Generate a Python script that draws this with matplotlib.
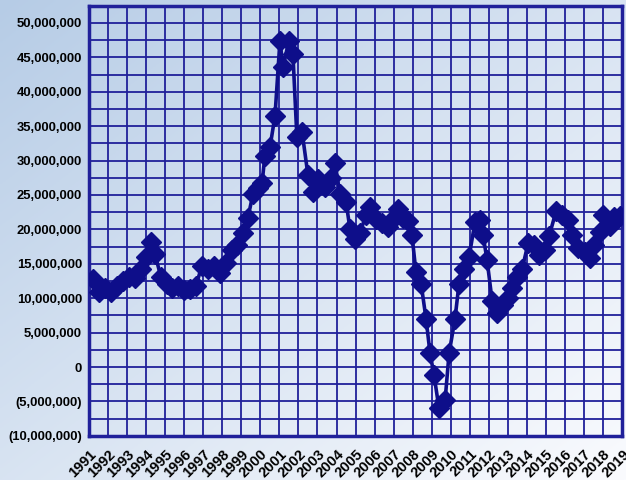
import numpy as np
import matplotlib.pyplot as plt
from matplotlib.ticker import FuncFormatter, MultipleLocator

# fecha (año decimal) y valor en millones
years = [1991.21, 1991.53, 1991.84, 1992.16, 1992.47, 1992.79, 1993.10, 1993.42,
         1993.73, 1993.99, 1994.26, 1994.47, 1994.78, 1995.10, 1995.36, 1995.67,
         1995.99, 1996.30, 1996.62, 1996.93, 1997.25, 1997.57, 1997.88, 1998.20,
         1998.51, 1998.77, 1999.09, 1999.35, 1999.61, 1999.88, 2000.09, 2000.24,
         2000.51, 2000.77, 2001.03, 2001.19, 2001.50, 2001.71, 2001.92, 2002.19,
         2002.50, 2002.76, 2003.03, 2003.39, 2003.71, 2003.92, 2004.18, 2004.50,
         2004.71, 2004.97, 2005.23, 2005.55, 2005.76, 2006.07, 2006.39, 2006.70,
         2006.97, 2007.23, 2007.49, 2007.75, 2007.96, 2008.17, 2008.44, 2008.70,
         2008.91, 2009.12, 2009.38, 2009.70, 2009.91, 2010.22, 2010.43, 2010.70,
         2010.96, 2011.27, 2011.54, 2011.69, 2011.90, 2012.17, 2012.43, 2012.74,
         2013.01, 2013.22, 2013.48, 2013.74, 2014.06, 2014.37, 2014.63, 2014.95,
         2015.16, 2015.53, 2015.84, 2016.16, 2016.37, 2016.68, 2017.05, 2017.31,
         2017.52, 2017.84, 2018.00, 2018.36, 2018.57, 2018.89]
values = [12.8, 10.9, 11.5, 10.9, 11.8, 12.5, 13.1, 12.9,
          14.2, 16.0, 18.2, 16.4, 13.1, 12.1, 11.5, 11.8,
          11.2, 11.3, 11.8, 14.7, 14.2, 14.7, 13.7, 15.1,
          17.0, 17.7, 19.5, 21.7, 25.1, 26.0, 26.7, 30.7,
          32.0, 36.5, 47.4, 43.6, 47.4, 45.5, 33.4, 34.2,
          27.9, 25.4, 27.3, 26.2, 27.5, 29.7, 25.1, 24.0,
          20.0, 18.6, 19.5, 22.1, 23.3, 21.5, 20.9, 20.3,
          21.5, 23.0, 21.7, 21.2, 19.2, 13.8, 12.1, 7.0,
          2.0, -1.2, -6.0, -4.8, 2.0, 7.0, 12.1, 14.2,
          16.0, 21.1, 21.4, 19.2, 15.6, 9.6, 7.8, 9.0,
          10.0, 11.5, 13.1, 14.2, 18.0, 17.7, 16.3, 17.0,
          19.0, 22.7, 22.1, 21.4, 19.2, 17.3, 16.7, 15.8,
          17.7, 19.6, 22.1, 20.5, 21.8, 21.9]
year_labels = [str(y) for y in range(1991, 2020)]

fig = plt.figure(figsize=(6.26, 4.80), dpi=100)

# fondo degradado (azul arriba a la izquierda, blanco abajo a la derecha)
bg = fig.add_axes([0, 0, 1, 1], zorder=-1)
gx, gy = np.meshgrid(np.linspace(0, 1, 200), np.linspace(0, 1, 200))
t = np.clip((gx + gy) / 2, 0, 1)
c0 = np.array([182, 204, 230]) / 255
c1 = np.array([250, 251, 254]) / 255
img = c0[None, None, :] * (1 - t[..., None]) + c1[None, None, :] * t[..., None]
bg.imshow(img, aspect='auto', extent=[0, 1, 0, 1], origin='upper')
bg.axis('off')

ax = fig.add_axes([0.142, 0.092, 0.852, 0.896])
ax.set_facecolor('none')
navy = '#0e0e8a'
grid_c = '#20209a'

ax.plot(years, [v * 1e6 for v in values], color=navy, lw=2.6,
        marker='D', markersize=10.5, markerfacecolor=navy,
        markeredgecolor=navy, zorder=3)

ax.set_xlim(1991, 2019)
ax.set_ylim(-10e6, 52.5e6)
ax.set_xticks(range(1991, 2020))
ax.set_xticklabels(year_labels, rotation=45, ha='right',
                   rotation_mode='anchor', fontweight='bold', fontsize=10.5,
                   family='Liberation Sans')
ax.yaxis.set_major_locator(MultipleLocator(5e6))
ax.yaxis.set_minor_locator(MultipleLocator(2.5e6))


def fmt(v, pos):
    if v < 0:
        return '({:,.0f})'.format(-v)
    return '{:,.0f}'.format(v)


ax.yaxis.set_major_formatter(FuncFormatter(fmt))
for lab in ax.get_yticklabels():
    lab.set_fontweight('bold')
    lab.set_fontsize(9.4)
    lab.set_family('Liberation Sans')

ax.grid(True, which='both', color=grid_c, lw=1.3)
ax.tick_params(axis='both', which='both', length=0, pad=5)
ax.tick_params(axis='x', pad=8)
for s in ax.spines.values():
    s.set_color(grid_c)
    s.set_linewidth(2.5)

fig.savefig('out.png', dpi=100)
